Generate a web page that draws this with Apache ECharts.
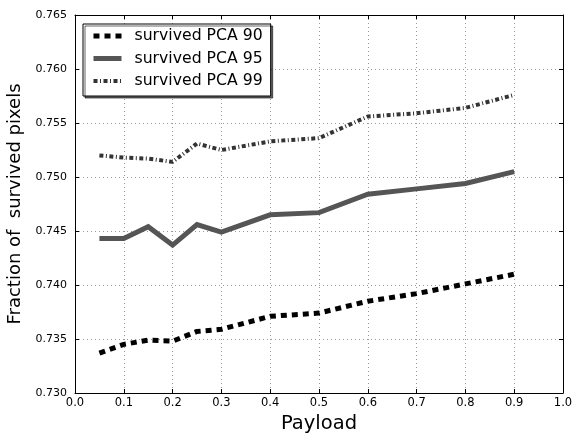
<!DOCTYPE html>
<html>
<head>
<meta charset="utf-8">
<script src="https://cdn.jsdelivr.net/npm/echarts@6/dist/echarts.min.js"></script>
<style>
  html, body { margin: 0; padding: 0; background: #fff; }
  #chart { width: 574px; height: 435px; }
</style>
</head>
<body>
<div id="chart"></div>
<script>
// Payload levels on the x axis
const payload = [0.05, 0.1, 0.15, 0.2, 0.25, 0.3, 0.4, 0.5, 0.6, 0.7, 0.8, 0.9];

// Fraction of pixels that survive, per PCA retention level
const pca90 = [0.7337, 0.7345, 0.7349, 0.7348, 0.7357, 0.7359, 0.7371, 0.7374, 0.7385, 0.7392, 0.7401, 0.7410];
const pca95 = [0.7443, 0.7443, 0.7454, 0.7437, 0.7456, 0.7449, 0.7465, 0.7467, 0.7484, 0.7489, 0.7494, 0.7505];
const pca99 = [0.7520, 0.7518, 0.7517, 0.7514, 0.7531, 0.7525, 0.7533, 0.7536, 0.7556, 0.7559, 0.7564, 0.7576];

const seriesNames = ['survived PCA 90', 'survived PCA 95', 'survived PCA 99'];

const xTicks = { min: 0, max: 1, interval: 0.1 };
const yTicks = { min: 0.730, max: 0.765, interval: 0.005 };

const font = 'DejaVu Sans';

function pairs(values) {
  return payload.map((x, i) => [x, values[i]]);
}

const chart = echarts.init(document.getElementById('chart'), null, { renderer: 'canvas' });

const innerTick = { show: true, inside: true, length: 4, lineStyle: { color: '#000', width: 1 } };
const gridLine = { show: true, lineStyle: { color: '#9a9a9a', width: 1, type: [1, 3] } };

// line styles shared by the plotted series and their legend samples
const styles = [
  { color: '#000', width: 5, type: [6, 5], cap: 'butt' },
  { color: '#555', width: 5, type: 'solid', join: 'miter' },
  { color: '#333', width: 4, type: [4, 2.5, 1, 2.5], cap: 'butt' }
];

chart.setOption({
  animation: false,
  backgroundColor: '#fff',
  grid: { left: 75, right: 11, top: 15, bottom: 42, containLabel: false, outerBoundsMode: 'none' },
  legend: {
    orient: 'vertical',
    left: 83,
    top: 24,
    padding: [4, 8, 7, 8],
    itemWidth: 28,
    itemHeight: 16,
    itemGap: 6.5,
    backgroundColor: '#fff',
    borderColor: '#000',
    borderWidth: 1,
    shadowColor: 'rgba(0,0,0,0.6)',
    shadowOffsetX: 2,
    shadowOffsetY: 2,
    shadowBlur: 0,
    textStyle: { fontFamily: font, fontSize: 15.7, lineHeight: 16, color: '#000', padding: [0, 0, 0, 8] },
    data: seriesNames.map((name, i) => ({
      name: name,
      itemStyle: { opacity: 0 },
      lineStyle: { color: styles[i].color, width: styles[i].width, type: styles[i].type }
    }))
  },
  xAxis: [
    {
      type: 'value',
      min: xTicks.min, max: xTicks.max, interval: xTicks.interval,
      name: 'Payload',
      nameLocation: 'middle',
      nameGap: 21,
      nameTextStyle: { fontFamily: font, fontSize: 19.5, color: '#000' },
      axisLine: { show: true, onZero: false, lineStyle: { color: '#000', width: 1 } },
      axisTick: innerTick,
      axisLabel: { fontFamily: font, fontSize: 11.5, color: '#000', margin: 4, formatter: v => v.toFixed(1) },
      splitLine: gridLine
    },
    {
      type: 'value', position: 'top',
      min: xTicks.min, max: xTicks.max, interval: xTicks.interval,
      axisLine: { show: true, onZero: false, lineStyle: { color: '#000', width: 1 } },
      axisTick: innerTick,
      axisLabel: { show: false },
      splitLine: { show: false }
    }
  ],
  yAxis: [
    {
      type: 'value',
      min: yTicks.min, max: yTicks.max, interval: yTicks.interval,
      name: 'Fraction of  survived pixels',
      nameLocation: 'middle',
      nameGap: 46,
      nameTextStyle: { fontFamily: font, fontSize: 18, color: '#000' },
      axisLine: { show: true, onZero: false, lineStyle: { color: '#000', width: 1 } },
      axisTick: innerTick,
      axisLabel: { fontFamily: font, fontSize: 11, color: '#000', margin: 8, formatter: v => v.toFixed(3) },
      splitLine: gridLine
    },
    {
      type: 'value', position: 'right',
      min: yTicks.min, max: yTicks.max, interval: yTicks.interval,
      axisLine: { show: true, onZero: false, lineStyle: { color: '#000', width: 1 } },
      axisTick: innerTick,
      axisLabel: { show: false },
      splitLine: { show: false }
    }
  ],
  series: [pca90, pca95, pca99].map((values, i) => ({
    name: seriesNames[i],
    type: 'line',
    data: pairs(values),
    showSymbol: false,
    symbol: 'none',
    lineStyle: styles[i],
    itemStyle: { color: styles[i].color }
  }))
});
</script>
</body>
</html>
